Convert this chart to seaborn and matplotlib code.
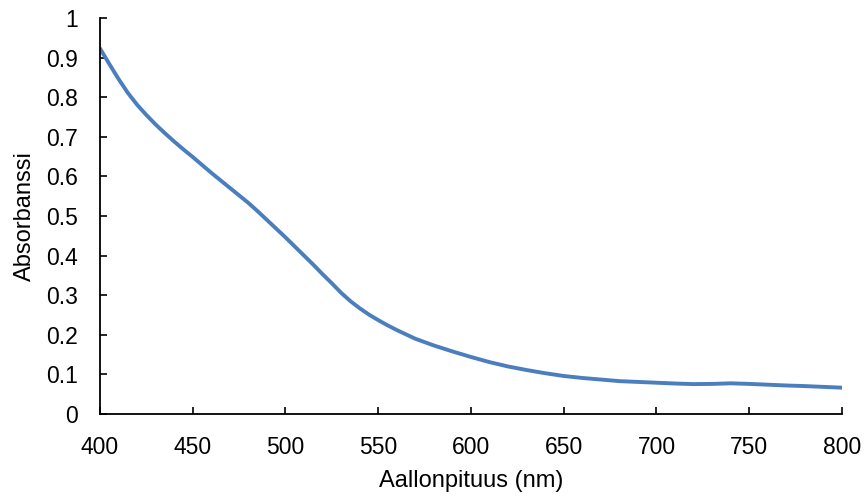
import matplotlib
matplotlib.use("Agg")
import matplotlib.pyplot as plt
import seaborn as sns
import pandas as pd

wavelength = [400, 405, 410, 415, 420, 425, 430, 435, 440, 445, 450, 455, 460, 465, 470,
              475, 480, 485, 490, 495, 500, 505, 510, 515, 520, 525, 530, 535, 540, 545,
              550, 555, 560, 570, 580, 590, 600, 610, 620, 630, 640, 650, 660, 670, 680,
              690, 700, 710, 720, 730, 740, 750, 760, 770, 780, 790, 800]
absorbance = [0.923, 0.884, 0.846, 0.811, 0.781, 0.755, 0.731, 0.709, 0.688, 0.668, 0.649,
              0.629, 0.609, 0.590, 0.571, 0.552, 0.533, 0.512, 0.490, 0.468, 0.446, 0.423,
              0.400, 0.377, 0.353, 0.330, 0.306, 0.285, 0.267, 0.251, 0.237, 0.224, 0.212,
              0.190, 0.173, 0.158, 0.144, 0.131, 0.120, 0.111, 0.103, 0.096, 0.091, 0.087,
              0.083, 0.081, 0.079, 0.077, 0.0755, 0.076, 0.0775, 0.076, 0.074, 0.072,
              0.0705, 0.0685, 0.0665]
x_ticks = [400, 450, 500, 550, 600, 650, 700, 750, 800]
y_ticks = [0, 0.1, 0.2, 0.3, 0.4, 0.5, 0.6, 0.7, 0.8, 0.9, 1.0]
y_labels = ["0", "0.1", "0.2", "0.3", "0.4", "0.5", "0.6", "0.7", "0.8", "0.9", "1"]

sns.set_style("ticks")
plt.rcParams["font.family"] = ["Liberation Sans", "DejaVu Sans"]

df = pd.DataFrame({"Aallonpituus (nm)": wavelength, "Absorbanssi": absorbance})

fig = plt.figure(figsize=(8.65, 4.97), dpi=100)
ax = fig.add_axes([0.1156, 0.167, 0.8578, 0.7968])
sns.lineplot(data=df, x="Aallonpituus (nm)", y="Absorbanssi", ax=ax,
             color="#4A7EBF", linewidth=2.8)
for l in ax.lines:
    l.set_solid_capstyle("round")
    l.set_solid_joinstyle("round")

ax.set_xlim(400, 800)
ax.set_ylim(0, 1)
ax.set_xticks(x_ticks)
ax.set_yticks(y_ticks)
ax.set_yticklabels(y_labels)
ax.tick_params(direction="in", length=5, width=1.2, color="black",
               labelsize=16.5, labelcolor="black")
ax.tick_params(axis="y", pad=16)
ax.tick_params(axis="x", pad=16)
for s in ["top", "right"]:
    ax.spines[s].set_visible(False)
for s in ["left", "bottom"]:
    ax.spines[s].set_color("black")
    ax.spines[s].set_linewidth(1.3)
ax.set_xlabel("Aallonpituus (nm)", fontsize=17, color="black", labelpad=8)
ax.set_ylabel("Absorbanssi", fontsize=17, color="black", labelpad=7)

fig.savefig("out.png", dpi=100)
